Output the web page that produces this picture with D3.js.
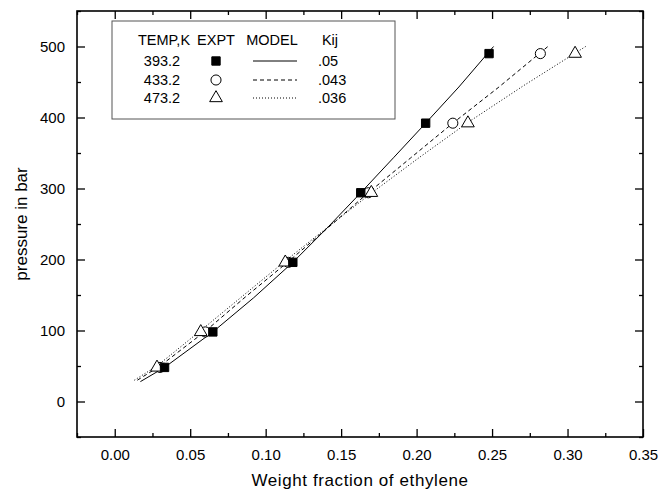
<!DOCTYPE html>
<html>
<head>
<meta charset="utf-8">
<script src="https://cdn.jsdelivr.net/npm/d3@7"></script>
<style>
  html, body { margin: 0; padding: 0; background: #fff; }
  svg { display: block; font-family: "Liberation Sans", Arial, sans-serif; }
</style>
</head>
<body>
<svg id="chart" width="660" height="494"></svg>
<script>
// Experimental solubility of ethylene: pressure (bar) vs weight fraction
const temps = ["393.2", "433.2", "473.2"];
const kij = [".05", ".043", ".036"];

const expt393 = [[0.033, 48], [0.065, 98], [0.118, 196], [0.163, 294], [0.206, 392], [0.248, 490]];
const expt433 = [[0.030, 48], [0.060, 98], [0.115, 196], [0.168, 294], [0.224, 392], [0.282, 490]];
const expt473 = [[0.028, 48], [0.057, 98], [0.113, 196], [0.170, 294], [0.234, 392], [0.305, 490]];

const model393 = [[0.017, 28], [0.033, 48], [0.065, 98], [0.092, 146], [0.118, 196], [0.141, 245],
                  [0.163, 294], [0.185, 344], [0.206, 392], [0.228, 443], [0.251, 500]];
const model433 = [[0.015, 30], [0.030, 50], [0.060, 99], [0.087, 148], [0.115, 197], [0.142, 246],
                  [0.168, 294], [0.196, 343], [0.224, 392], [0.254, 442], [0.287, 500]];
const model473 = [[0.013, 30], [0.028, 50], [0.057, 100], [0.085, 149], [0.113, 198], [0.142, 247],
                  [0.171, 295], [0.202, 344], [0.234, 393], [0.271, 445], [0.312, 500]];

const xTicks = [0, 0.05, 0.10, 0.15, 0.20, 0.25, 0.30, 0.35];
const xMinor = [-0.025, 0.025, 0.075, 0.125, 0.175, 0.225, 0.275, 0.325];
const yTicks = [0, 100, 200, 300, 400, 500];
const yMinor = [-50, 50, 150, 250, 350, 450, 550];

const svg = d3.select("#chart");
const pL = 77, pR = 643, pT = 11, pB = 437;

const x = d3.scaleLinear().domain([-0.025, 0.35]).range([pL, pR]);
const y = d3.scaleLinear().domain([-50, 550]).range([pB, pT]);

// axes with inward ticks on all four sides
function styleAxis(g) {
  g.select(".domain").remove();
  g.selectAll("line").attr("stroke", "#000").attr("stroke-width", 1.3);
  g.selectAll("text").attr("fill", "#000").attr("font-size", 15);
}

svg.append("g").attr("transform", `translate(0,${pB})`)
  .call(d3.axisBottom(x).tickValues(xTicks).tickFormat(d3.format(".2f")).tickSizeInner(-8).tickPadding(12))
  .call(styleAxis);
svg.append("g").attr("transform", `translate(0,${pB})`)
  .call(d3.axisBottom(x).tickValues(xMinor).tickFormat("").tickSizeInner(-4))
  .call(styleAxis);
svg.append("g").attr("transform", `translate(${pL},0)`)
  .call(d3.axisLeft(y).tickValues(yTicks).tickFormat(d3.format("d")).tickSizeInner(-8).tickPadding(12))
  .call(styleAxis);
svg.append("g").attr("transform", `translate(${pL},0)`)
  .call(d3.axisLeft(y).tickValues(yMinor).tickFormat("").tickSizeInner(-4))
  .call(styleAxis);
svg.append("g").attr("transform", `translate(0,${pT})`)
  .call(d3.axisTop(x).tickValues(xTicks).tickFormat("").tickSizeInner(-8))
  .call(styleAxis);
svg.append("g").attr("transform", `translate(0,${pT})`)
  .call(d3.axisTop(x).tickValues(xMinor).tickFormat("").tickSizeInner(-4))
  .call(styleAxis);
svg.append("g").attr("transform", `translate(${pR},0)`)
  .call(d3.axisRight(y).tickValues(yTicks).tickFormat("").tickSizeInner(-8))
  .call(styleAxis);
svg.append("g").attr("transform", `translate(${pR},0)`)
  .call(d3.axisRight(y).tickValues(yMinor).tickFormat("").tickSizeInner(-4))
  .call(styleAxis);

// frame
svg.append("rect").attr("x", pL).attr("y", pT).attr("width", pR - pL).attr("height", pB - pT)
  .attr("fill", "none").attr("stroke", "#000").attr("stroke-width", 1.6);

// axis titles
svg.append("text").attr("x", (pL + pR) / 2).attr("y", 486).attr("text-anchor", "middle")
  .attr("font-size", 17).attr("letter-spacing", 0.6).text("Weight fraction of ethylene");
svg.append("text").attr("transform", `translate(27,${(pT + pB) / 2}) rotate(-90)`)
  .attr("text-anchor", "middle").attr("font-size", 17).text("pressure in bar");

// model curves
const dashes = [null, "4,3", "1,2"];
const line = d3.line().x(d => x(d[0])).y(d => y(d[1]));
[model393, model433, model473].forEach((m, i) => {
  svg.append("path").datum(m).attr("d", line).attr("fill", "none")
    .attr("stroke", "#000").attr("stroke-width", 1)
    .attr("stroke-dasharray", dashes[i]);
});

// experimental markers
const sq = d3.symbol().type(d3.symbolSquare).size(70);
const ci = d3.symbol().type(d3.symbolCircle).size(80);
const tr = d3.symbol().type(d3.symbolTriangle).size(70);

function markers(data, sym, filled) {
  svg.append("g").selectAll("path").data(data).join("path")
    .attr("transform", d => `translate(${x(d[0])},${y(d[1])})`)
    .attr("d", sym)
    .attr("fill", filled ? "#000" : "#fff")
    .attr("stroke", "#000").attr("stroke-width", 1);
}
markers(expt433, ci, false);
markers(expt473, tr, false);
markers(expt393, sq, true);

// legend
const lg = svg.append("g");
lg.append("rect").attr("x", 112).attr("y", 21).attr("width", 283).attr("height", 98)
  .attr("fill", "#fff").attr("stroke", "#555").attr("stroke-width", 1);
const hdr = [["TEMP,K", 164], ["EXPT", 216], ["MODEL", 272], ["Kij", 330]];
hdr.forEach(h => lg.append("text").attr("x", h[1]).attr("y", 45).attr("text-anchor", "middle")
  .attr("font-size", 14.5).text(h[0]));
const rowY = [61, 80, 98];
const syms = [sq, ci, tr];
temps.forEach((t, i) => {
  lg.append("text").attr("x", 162).attr("y", rowY[i] + 5).attr("text-anchor", "middle")
    .attr("font-size", 14.5).text(t);
  lg.append("path").attr("transform", `translate(216,${rowY[i]})`).attr("d", syms[i])
    .attr("fill", i === 0 ? "#000" : "#fff").attr("stroke", "#000").attr("stroke-width", 1);
  lg.append("line").attr("x1", 253).attr("x2", 297).attr("y1", rowY[i]).attr("y2", rowY[i])
    .attr("stroke", "#000").attr("stroke-width", 1).attr("stroke-dasharray", dashes[i]);
  lg.append("text").attr("x", 318).attr("y", rowY[i] + 5).attr("font-size", 14.5).text(kij[i]);
});
</script>
</body>
</html>
